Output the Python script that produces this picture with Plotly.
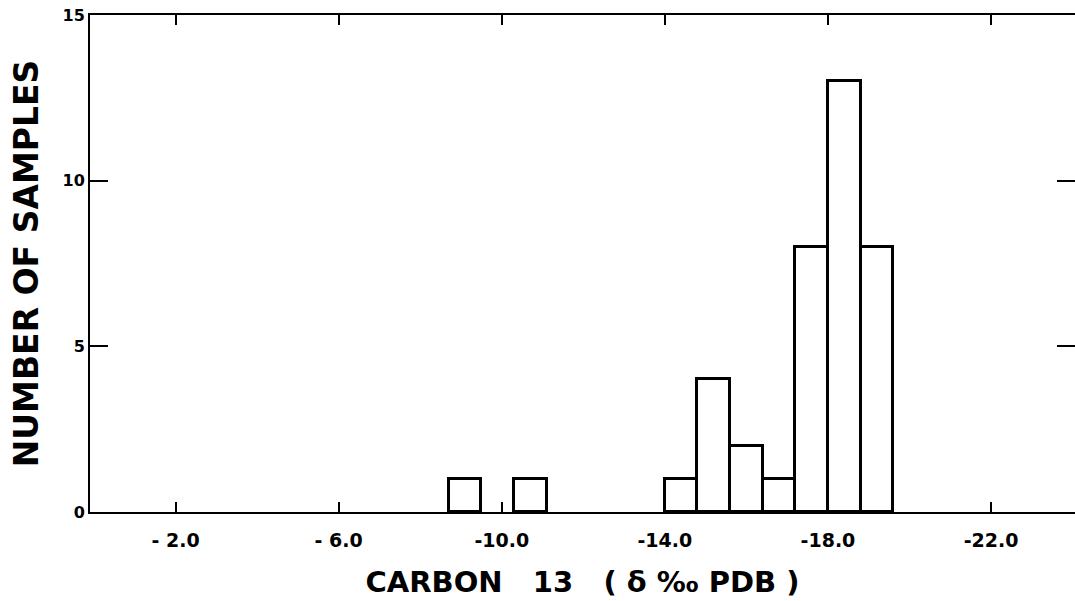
import plotly.graph_objects as go

# Data (bin centers in delta per mil PDB, counts)
bin_centers = [-9.1, -10.7, -14.4, -15.2, -16.0, -16.8, -17.6, -18.4, -19.2]
counts = [1, 1, 1, 4, 2, 1, 8, 13, 8]
bin_width = 0.8

x_tickvals = [-2, -6, -10, -14, -18, -22]
x_ticktext = ["- 2.0", "- 6.0", "-10.0", "-14.0", "-18.0", "-22.0"]
y_tickvals = [0, 5, 10, 15]
y_ticktext = ["0", "5", "10", "15"]
inner_tickvals = [5, 10]

FONT = "DejaVu Sans"

fig = go.Figure()
fig.add_trace(go.Bar(
    x=bin_centers, y=counts, width=bin_width,
    marker=dict(color="white", line=dict(color="black", width=3)),
    showlegend=False, hoverinfo="skip",
))
# empty helper traces so that the tick-only axes are drawn
fig.add_trace(go.Scatter(x=[None], y=[None], yaxis="y2", mode="markers",
                         showlegend=False, hoverinfo="skip"))
fig.add_trace(go.Scatter(x=[None], y=[None], yaxis="y3", mode="markers",
                         showlegend=False, hoverinfo="skip"))

tick_only = dict(range=[0, 15], overlaying="y", anchor="x",
                 tickvals=inner_tickvals, ticks="inside", ticklen=18, tickwidth=2,
                 tickcolor="black", showticklabels=False, showline=False,
                 showgrid=False, zeroline=False)

fig.update_layout(
    width=1075, height=601,
    margin=dict(l=90, r=0, t=15, b=89),
    paper_bgcolor="white", plot_bgcolor="white",
    font=dict(family=FONT, color="black"),
    bargap=0,
    xaxis=dict(
        range=[0.1, -24.06],
        tickvals=x_tickvals, ticktext=x_ticktext,
        ticks="inside", ticklen=10, tickwidth=2, tickcolor="black",
        showline=True, linecolor="black", linewidth=2, mirror="ticks",
        showgrid=False, zeroline=False,
        tickfont=dict(family=FONT, size=19, color="black", weight="bold"),
        ticklabelstandoff=10,
        title=dict(text="CARBON\u00a0\u00a0\u00a013\u00a0\u00a0\u00a0(\u00a0δ\u00a0‰\u00a0PDB\u00a0)",
                   font=dict(family=FONT, size=29, color="black", weight="bold"),
                   standoff=22),
    ),
    yaxis=dict(
        range=[0, 15],
        tickvals=y_tickvals, ticktext=y_ticktext, ticksuffix="\u00a0\u00a0",
        ticks="inside", ticklen=18, tickwidth=2, tickcolor="black",
        showline=True, linecolor="black", linewidth=2, mirror=False,
        showgrid=False, zeroline=False,
        tickfont=dict(family=FONT, size=16, color="black", weight="bold"),
        title=dict(text="NUMBER OF SAMPLES",
                   font=dict(family=FONT, size=33, color="black", weight="bold"),
                   standoff=14),
    ),
    yaxis2=dict(side="right", **tick_only),
    yaxis3=dict(side="left", **tick_only),
)

fig.write_html("out.html")
